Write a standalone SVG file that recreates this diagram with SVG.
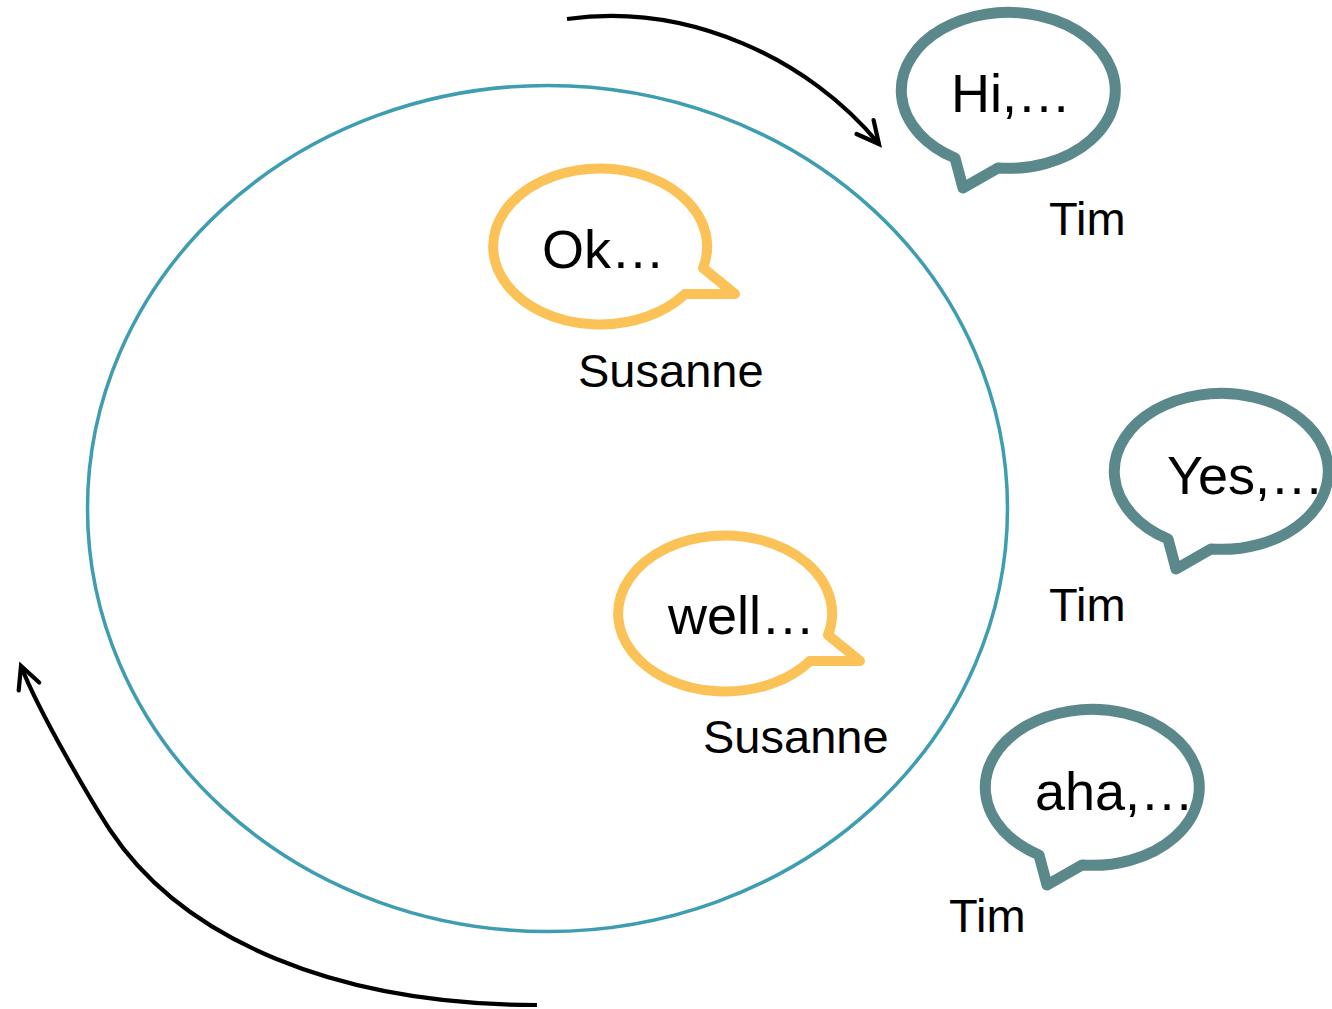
<svg xmlns="http://www.w3.org/2000/svg" width="1332" height="1009" viewBox="0 0 1332 1009">
  <style>
    .ring { fill: none; stroke: #3e9db0; stroke-width: 3.5; }
    .tim { fill: #ffffff; stroke: #5a888b; stroke-width: 11; stroke-linejoin: round; }
    .sus { fill: #ffffff; stroke: #fbc257; stroke-width: 10; stroke-linejoin: round; }
    .say { font-family: "Liberation Sans", Arial, sans-serif; font-size: 54px; fill: #000000; }
    .who { font-family: "Liberation Sans", Arial, sans-serif; font-size: 47px; fill: #000000; }
    .flow { fill: none; stroke: #000000; stroke-width: 4.2; }
  </style>
  <defs>
    <marker id="chev" viewBox="-28 -16 32 32" markerWidth="32" markerHeight="32" refX="0" refY="0" orient="auto" markerUnits="userSpaceOnUse" overflow="visible">
      <path d="M -22 -11 L 0 0 L -22 11" fill="none" stroke="#000000" stroke-width="4.2" stroke-linecap="round"/>
    </marker>
    <!-- speech bubble with tail at lower left, centred on origin -->
    <path id="bubble-left" d="M -10 77 A 107 78 0 1 0 -53 67 L -45 97 Z"/>
    <!-- speech bubble with tail at lower right, centred on origin -->
    <path id="bubble-right" d="M 103 21 A 107 78 0 1 0 85 47 L 135 47 Z"/>
  </defs>

  <!-- conversation ring -->
  <ellipse id="ring" class="ring" cx="547.5" cy="508.5" rx="460" ry="423"/>

  <g id="connectors">
    <path class="flow" d="M 567 19 C 690 2, 810 60, 879 144" marker-end="url(#chev)"/>
    <path class="flow" d="M 537 1005 C 337 1005, 183 940, 110 830 C 95 807, 40 715, 21 666" marker-end="url(#chev)"/>
  </g>

  <g id="tim-hi">
    <use href="#bubble-left" class="tim" transform="translate(1008 91)"/>
    <text class="say" x="951" y="112">Hi,…</text>
    <text class="who" x="1049" y="235">Tim</text>
  </g>

  <g id="susanne-ok">
    <use href="#bubble-right" class="sus" transform="translate(600 247)"/>
    <text class="say" x="542" y="268">Ok…</text>
    <text class="who" x="578" y="387">Susanne</text>
  </g>

  <g id="tim-yes">
    <use href="#bubble-left" class="tim" transform="translate(1221 472)"/>
    <text class="say" x="1167" y="494">Yes,…</text>
    <text class="who" x="1049" y="621">Tim</text>
  </g>

  <g id="susanne-well">
    <use href="#bubble-right" class="sus" transform="translate(725 614)"/>
    <text class="say" x="668" y="634">well…</text>
    <text class="who" x="703" y="753">Susanne</text>
  </g>

  <g id="tim-aha">
    <use href="#bubble-left" class="tim" transform="translate(1092 788)"/>
    <text class="say" x="1035" y="810">aha,…</text>
    <text class="who" x="949" y="932">Tim</text>
  </g>
</svg>
